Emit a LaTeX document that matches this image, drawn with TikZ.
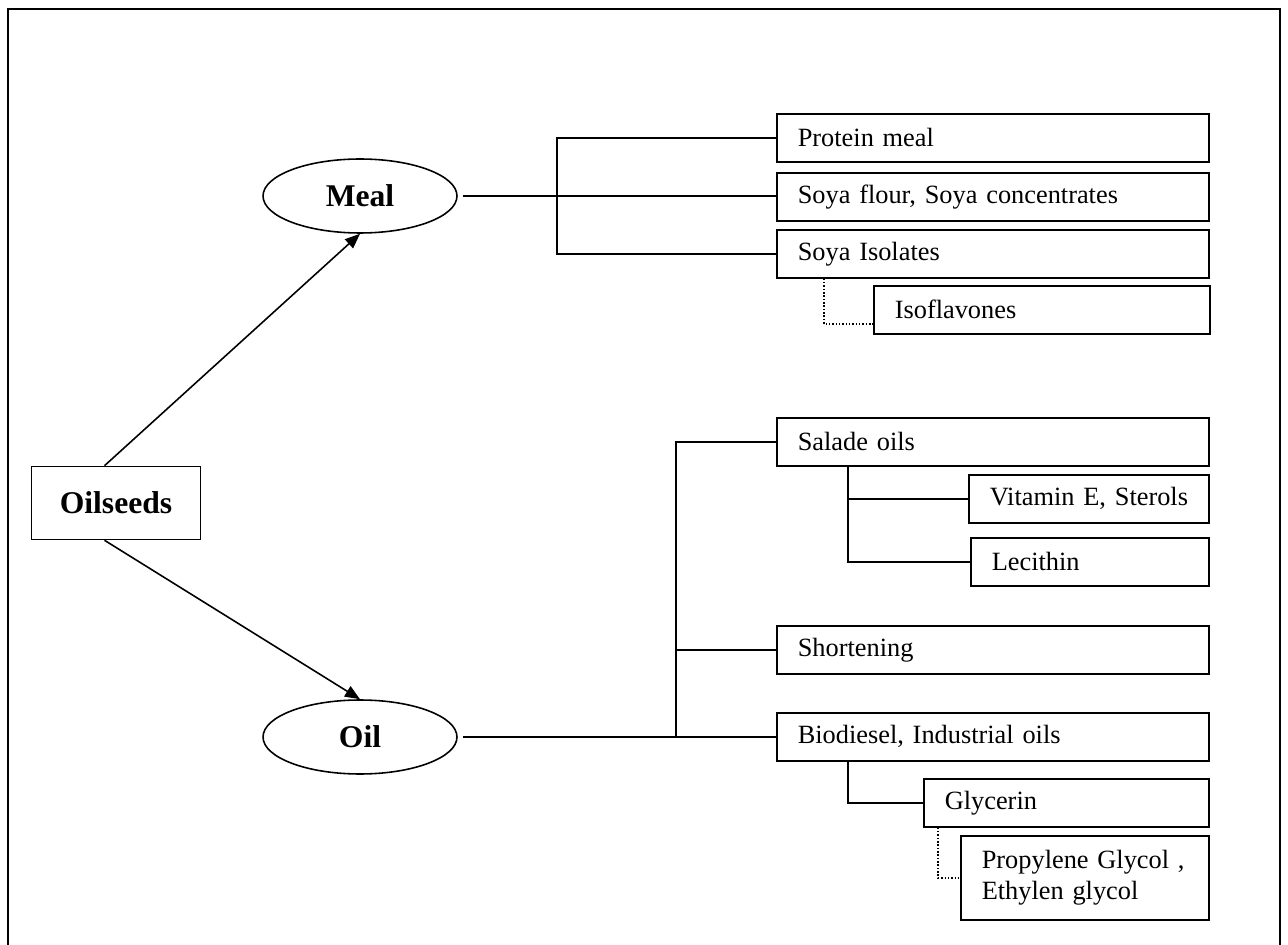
\documentclass[tikz,border=0pt]{standalone}
\usepackage{fontspec}
\setmainfont{Liberation Serif}
\usetikzlibrary{shapes.geometric, arrows.meta}

\begin{document}
\begin{tikzpicture}[x=0.02cm, y=-0.02cm, line width=0.9pt,
		item/.style={draw, anchor=north west, align=left, inner xsep=0.42cm, inner ysep=0pt, text width=#1, minimum height=0.96cm, font=\fontsize{15}{17.5}\selectfont},
		item/.default=7.8cm,
		product/.style={draw, ellipse, minimum width=3.88cm, minimum height=1.48cm, inner sep=0pt, font=\fontsize{18}{20}\selectfont\bfseries},
		link/.style={-{Triangle[length=0.3cm, width=0.24cm]}}]
			\useasboundingbox (0,0) rectangle (1288,945);
			\draw[line width=1.3pt] (8,945) -- (8,9) -- (1280,9) -- (1280,945);
			% left part
			\node[draw, minimum width=3.38cm, minimum height=1.46cm, font=\fontsize{18}{20}\selectfont\bfseries] (seeds) at (116,503) {Oilseeds};
			\node[product] (meal) at (360,196) {Meal};
			\node[product] (oil) at (360,737) {Oil};
			\draw[link] ([xshift=-0.23cm]seeds.north) -- (meal.south);
			\draw[link] ([xshift=-0.23cm]seeds.south) -- (oil.north);
			% meal products
			\node[item] (protein) at (776,113) {Protein meal};
			\node[item] (flour) at (776,172) {Soya flour, Soya concentrates};
			\node[item] (isolates) at (776,229) {Soya Isolates};
			\node[item=5.88cm] (isofl) at (873,285) {Isoflavones};
			\coordinate (mbar) at (557,0);
			\draw ([xshift=0.1cm]meal.east) -- (meal.east -| flour.west);
			\draw (protein.west) -- (protein.west -| mbar) -- (isolates.west -| mbar) -- (isolates.west);
			\draw[densely dotted] ([xshift=0.96cm]isolates.south west) |- ([yshift=-0.28cm]isofl.west);
			% oil products
			\node[item] (salade) at (776,417) {Salade oils};
			\node[item=3.96cm] (vitamin) at (968,474) {\mbox{Vitamin E, Sterols}};
			\node[item=3.92cm] (lecithin) at (970,537) {Lecithin};
			\node[item] (shortening) at (776,625) {Shortening};
			\node[item] (biodiesel) at (776,712) {Biodiesel, Industrial oils};
			\node[item=4.86cm] (glycerin) at (923,778) {Glycerin};
			\node[item=4.12cm, minimum height=1.68cm] (propylene) at (960,835) {Propylene Glycol ,\\ Ethylen glycol};
			\coordinate (obar) at (676,0);
			\draw ([xshift=0.1cm]oil.east) -- (oil.east -| biodiesel.west);
			\draw (salade.west) -- (salade.west -| obar) -- (biodiesel.west -| obar);
			\draw (shortening.west -| obar) -- (shortening.west);
			\coordinate (ssub) at ([xshift=1.44cm]salade.south west);
			\draw (ssub) |- (lecithin.west);
			\draw (ssub |- vitamin.west) -- (vitamin.west);
			\draw ([xshift=1.44cm]biodiesel.south west) |- (glycerin.west);
			\draw[densely dotted] ([xshift=0.3cm]glycerin.south west) |- (propylene.west);
\end{tikzpicture}
\end{document}
